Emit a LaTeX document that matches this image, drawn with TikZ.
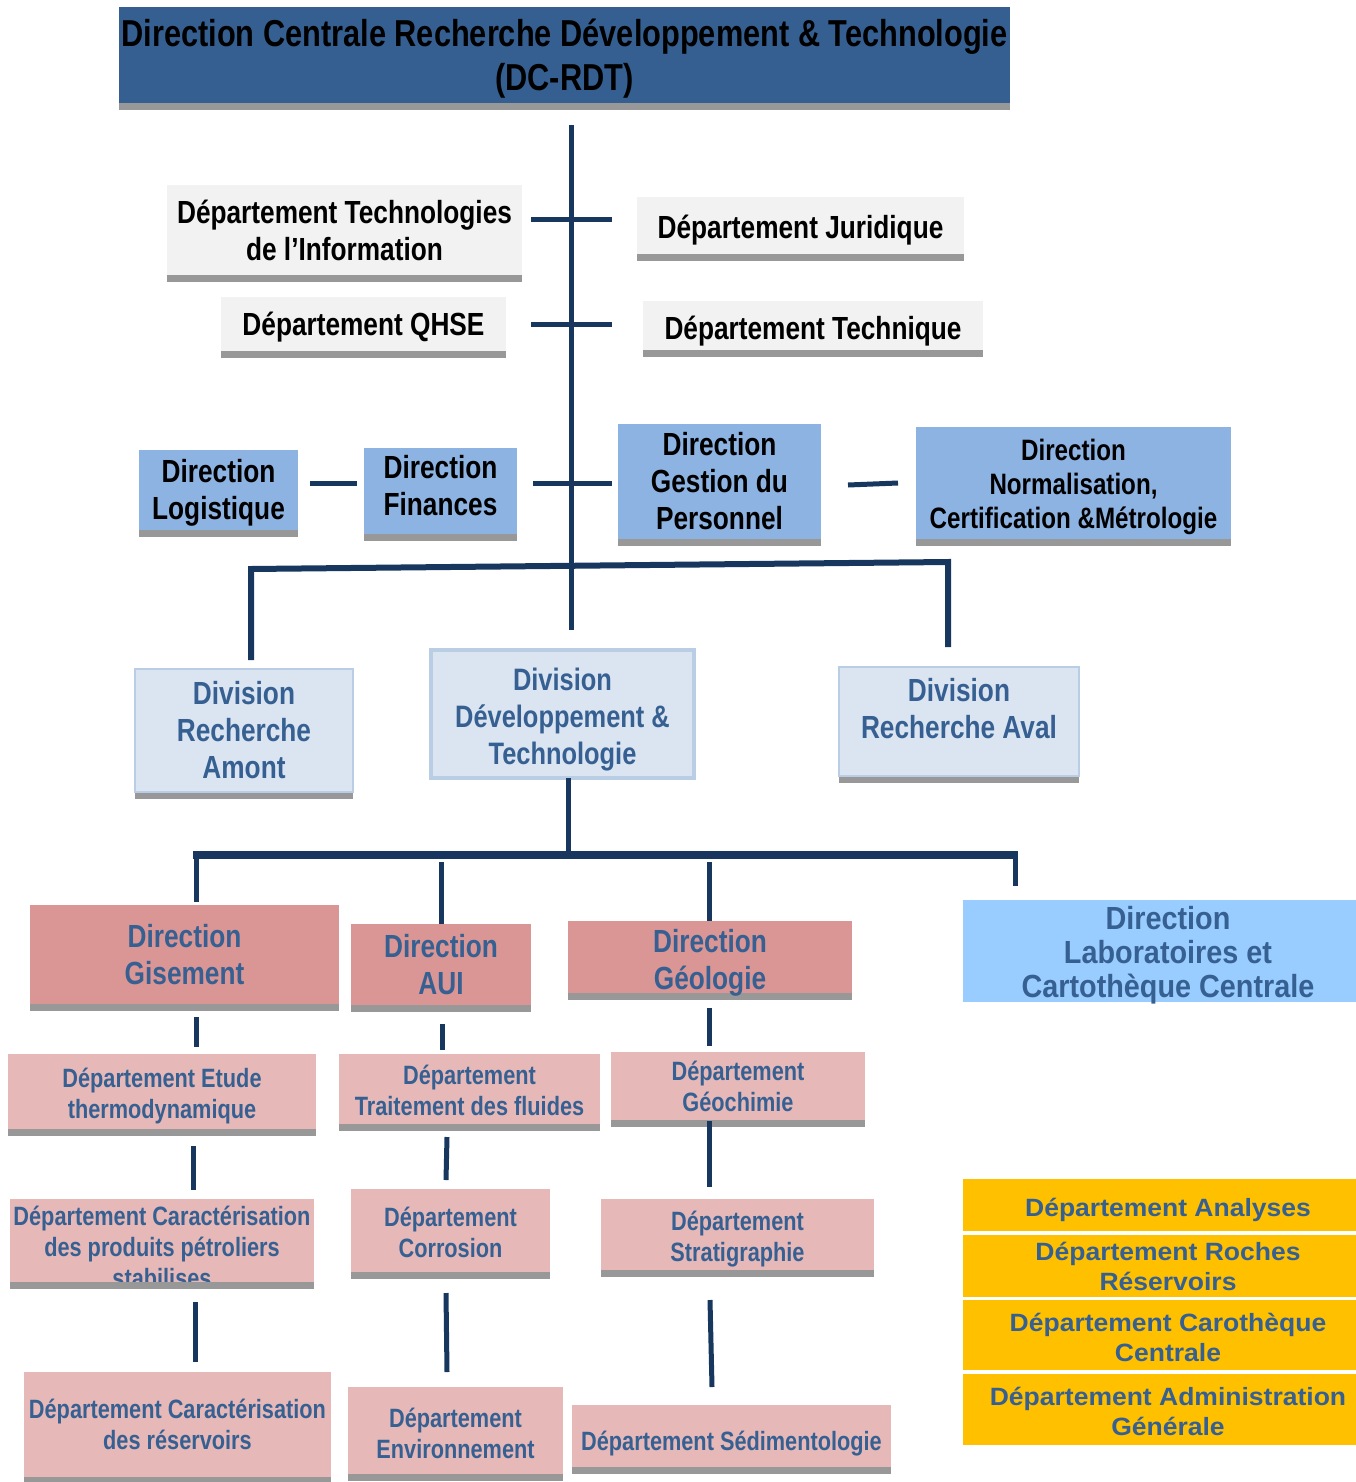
\documentclass[tikz,border=0pt]{standalone}
\usepackage{fontspec}
\setmainfont{Liberation Sans}
\newfontfamily\narrowsans[FakeStretch=0.82]{Liberation Sans}
\newfontfamily\semisans[FakeStretch=0.9]{Liberation Sans}
\newfontfamily\broadsans[FakeStretch=1.06]{Liberation Sans}
\usetikzlibrary{shadows}

% nudge a text block down / up inside its box (amount in pt)
\newcommand\pushdown[1]{\rule{0pt}{\dimexpr0.76em+#1pt+#1pt\relax}}
\newcommand\pullup[1]{\rule[-#1pt]{0pt}{1pt}}

\definecolor{navy}{HTML}{17375E}
\definecolor{headblue}{HTML}{365F91}
\definecolor{stripgray}{HTML}{989898}
\definecolor{paleGray}{HTML}{F2F2F2}
\definecolor{midblue}{HTML}{8DB3E2}
\definecolor{divfill}{HTML}{DBE5F1}
\definecolor{divborder}{HTML}{B9CDE5}
\definecolor{rosedark}{HTML}{D99694}
\definecolor{roselight}{HTML}{E6B9B8}
\definecolor{skyblue}{HTML}{99CCFF}
\definecolor{amber}{HTML}{FFC000}
\definecolor{inkblue}{HTML}{376092}

\tikzset{
  sz/.style 2 args={minimum width=#1pt, minimum height=#2pt},
  % the box size comes from minimum width/height alone
  box/.style={inner xsep=0pt, inner ysep=-30pt, align=center, font=\narrowsans\bfseries\fontsize{32}{37}\selectfont},
  strip/.style={drop shadow={shadow xshift=0pt, shadow yshift=-7pt, fill=stripgray, opacity=1}},
  headbox/.style={box, strip, fill=headblue, text=black, font=\narrowsans\bfseries\fontsize{37.5}{44}\selectfont},
  graybox/.style={box, strip, fill=paleGray, text=black},
  bluebox/.style={box, strip, fill=midblue, text=black},
  divbox/.style={box, fill=divfill, draw=divborder, line width=2pt, text=inkblue},
  dirbox/.style={box, strip, fill=rosedark, text=inkblue},
  deptbox/.style={box, strip, fill=roselight, text=inkblue, font=\narrowsans\bfseries\fontsize{26.5}{31}\selectfont},
  labbox/.style={box, fill=skyblue, text=inkblue, font=\semisans\bfseries\fontsize{32}{34}\selectfont},
  unitbox/.style={box, fill=amber, text=inkblue, font=\broadsans\bfseries\fontsize{25}{30}\selectfont},
  link/.style={draw=navy, line width=5pt},
}

\begin{document}
\begin{tikzpicture}[x=1pt, y=-1pt]
\useasboundingbox (0,0) rectangle (1355,1482);

% --- top management -------------------------------------------------
\node[headbox, sz={891}{96}] (head) at (564.5,55)
  {\pushdown{3}Direction Centrale Recherche Développement \& Technologie\\(DC-RDT)};

\node[graybox, sz={355}{90}] (ti) at (344.5,230) {Département Technologies\\de l’Information};
\node[graybox, sz={327}{57}] (jur) at (800.5,225.5) {\pushdown{4}Département Juridique};
\node[graybox, sz={285}{54}] (qhse) at (363.5,324) {\pushdown{3}Département QHSE};
\node[graybox, sz={340}{49}] (tech) at (813,325.5) {\pushdown{5}Département Technique};

\node[bluebox, sz={159}{80}] (logi) at (218.5,490) {\pushdown{2.5}Direction\\Logistique};
\node[bluebox, sz={153}{86}] (fin) at (440.5,491) {Direction\\Finances\pullup{12}};
\node[bluebox, sz={203}{115}] (gp) at (719.5,481.5) {Direction\\Gestion du\\Personnel};
\node[bluebox, sz={315}{112}, font=\narrowsans\bfseries\fontsize{29.5}{34}\selectfont] (ncm) at (1073.5,483)
  {\pushdown{3}Direction\\Normalisation,\\Certification \&Métrologie};

% --- divisions -------------------------------------------------------
\node[divbox, strip, sz={218}{123}] (amont) at (244,730.5) {Division\\Recherche\\Amont};
\node[divbox, line width=3.5pt, sz={263}{128}, font=\narrowsans\bfseries\fontsize{31}{37}\selectfont] (ddt) at (562.5,714)
  {\pushdown{4.5}Division\\Développement \&\\Technologie};
\node[divbox, strip, sz={240}{109}] (aval) at (959,721.5) {\pushdown{4.5}Division\\Recherche Aval\\\vphantom{A}};

% --- directions of the D&T division ---------------------------------
\node[dirbox, sz={309}{99}] (gis) at (184.5,954.5) {Direction\\Gisement};
\node[dirbox, sz={180}{81}] (aui) at (441,964.5) {Direction\\AUI};
\node[dirbox, sz={284}{72}] (geo) at (710,957) {\pushdown{5.5}Direction\\Géologie};
\node[labbox, sz={410}{102}] (lab) at (1168,951) {\pushdown{4}Direction\\Laboratoires et\\Cartothèque Centrale};

% --- departments -----------------------------------------------------
\node[deptbox, sz={308}{75}] (etude) at (162,1091.5) {\pushdown{4}Département Etude\\thermodynamique};
\node[deptbox, sz={304}{83}] (prod) at (162,1240.5) {};
\node[box, text=inkblue, font=\narrowsans\bfseries\fontsize{26.5}{31}\selectfont] (prodtxt) at (162,1247)
  {Département Caractérisation\\des produits pétroliers\\stabilises};
\fill[stripgray] (prod.south west) rectangle ++(304,7);
\node[deptbox, sz={307}{105}] (resv) at (177.5,1424.5) {Département Caractérisation\\des réservoirs};

\node[deptbox, sz={261}{70}] (trait) at (469.5,1089) {\pushdown{1.5}Département\\Traitement des fluides};
\node[deptbox, sz={199}{83}] (corr) at (450.5,1230.5) {\pushdown{2}Département\\Corrosion};
\node[deptbox, sz={215}{87}] (env) at (455.5,1430.5) {\pushdown{2.5}Département\\Environnement};

\node[deptbox, sz={254}{68}] (geoch) at (738,1086) {Département\\Géochimie};
\node[deptbox, sz={273}{71}] (strat) at (737.5,1234.5) {\pushdown{4}Département\\Stratigraphie};
\node[deptbox, sz={319}{62}] (sedi) at (731.5,1436) {\pushdown{7}Département Sédimentologie};

\node[unitbox, sz={410}{52}] (ana) at (1168,1205) {\pushdown{5}Département Analyses};
\node[unitbox, sz={410}{62}] (roch) at (1168,1266) {Département Roches\\Réservoirs};
\node[unitbox, sz={410}{70}] (caro) at (1168,1335) {\pushdown{2}Département Carothèque\\Centrale};
\node[unitbox, sz={410}{71}] (adm) at (1168,1409.5) {\pushdown{1.5}Département Administration\\Générale};

% --- connector end points -------------------------------------------
\coordinate (spT) at (571,125);   \coordinate (spB) at (571,630);
\coordinate (t1L) at (531,219);   \coordinate (t1R) at (612,219);
\coordinate (t2L) at (531,324);   \coordinate (t2R) at (612,324);
\coordinate (t3L) at (310,483);   \coordinate (t3R) at (357,483);
\coordinate (t4L) at (533,483);   \coordinate (t4R) at (612,483);
\coordinate (t5L) at (848,485);   \coordinate (t5R) at (898,483);
\coordinate (bL) at (251,569);    \coordinate (bR) at (948,562);
\coordinate (amT) at (251,660);   \coordinate (avT) at (948,647);
\coordinate (ddB) at (568,778);   \coordinate (ddJ) at (568,859);
\coordinate (cL) at (193,855);    \coordinate (cR) at (1018,855);
\coordinate (gsJ) at (196,855);   \coordinate (gsT) at (196,902);
\coordinate (auJ) at (441,862);   \coordinate (auT) at (441,924);
\coordinate (geJ) at (709,862);   \coordinate (geT) at (709,921);
\coordinate (lbJ) at (1015,855);  \coordinate (lbT) at (1015,886);
\coordinate (g1a) at (196,1017);  \coordinate (g1b) at (196,1047);
\coordinate (g2a) at (193,1146);  \coordinate (g2b) at (193,1190);
\coordinate (g3a) at (195,1302);  \coordinate (g3b) at (195,1362);
\coordinate (a1a) at (442,1024);  \coordinate (a1b) at (442,1050);
\coordinate (a2a) at (447,1137);  \coordinate (a2b) at (446,1180);
\coordinate (a3a) at (446,1293);  \coordinate (a3b) at (447,1372);
\coordinate (e1a) at (709,1008);  \coordinate (e1b) at (709,1046);
\coordinate (e2a) at (709,1121);  \coordinate (e2b) at (709,1187);
\coordinate (e3a) at (710,1300);  \coordinate (e3b) at (712,1387);

% --- connectors ------------------------------------------------------
\draw[link] (spT) -- (spB);
\draw[link] (t1L) -- (t1R);
\draw[link] (t2L) -- (t2R);
\draw[link] (t3L) -- (t3R);
\draw[link] (t4L) -- (t4R);
\draw[link] (t5L) -- (t5R);
\draw[link, line width=6pt, line join=miter] (amT) -- (bL) -- (bR) -- (avT);
\draw[link] (ddB) -- (ddJ);
\draw[link, line width=8pt] (cL) -- (cR);
\draw[link] (gsJ) -- (gsT);
\draw[link] (auJ) -- (auT);
\draw[link] (geJ) -- (geT);
\draw[link] (lbJ) -- (lbT);
\draw[link] (g1a) -- (g1b);
\draw[link] (g2a) -- (g2b);
\draw[link] (g3a) -- (g3b);
\draw[link] (a1a) -- (a1b);
\draw[link] (a2a) -- (a2b);
\draw[link] (a3a) -- (a3b);
\draw[link] (e1a) -- (e1b);
\draw[link] (e2a) -- (e2b);
\draw[link] (e3a) -- (e3b);
\end{tikzpicture}
\end{document}
